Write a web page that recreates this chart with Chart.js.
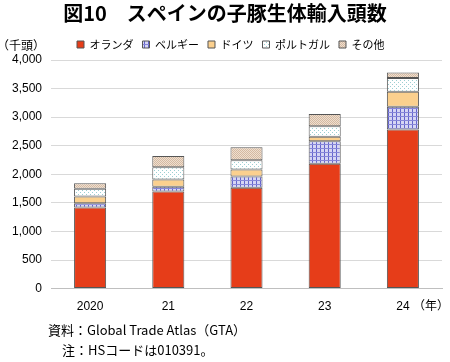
<!DOCTYPE html>
<html>
<head>
<meta charset="utf-8">
<script src="https://cdn.jsdelivr.net/npm/chart.js@4"></script>
<style>
  html, body { margin: 0; padding: 0; background: #fff; }
  #wrap { position: relative; width: 450px; height: 362px; }
</style>
</head>
<body>
<div id="wrap"><canvas id="chart" width="450" height="362"></canvas></div>
<script>
const years = ["2020", "21", "22", "23", "24"];
const seriesNames = ["オランダ", "ベルギー", "ドイツ", "ポルトガル", "その他"];
const netherlands = [1420, 1700, 1765, 2185, 2785];
const belgium = [75, 80, 195, 395, 395];
const germany = [115, 130, 125, 75, 265];
const portugal = [135, 215, 160, 185, 240];
const others = [100, 195, 230, 215, 95];
const yTicks = [0, 500, 1000, 1500, 2000, 2500, 3000, 3500, 4000];

const JP = "'Noto Sans CJK JP', 'Noto Sans', sans-serif";
const LAT = "'Liberation Sans', Arial, sans-serif";

function makePattern(size, draw) {
  const c = document.createElement("canvas");
  c.width = size; c.height = size;
  const g = c.getContext("2d");
  draw(g);
  return document.getElementById("chart").getContext("2d").createPattern(c, "repeat");
}

const belgiumFill = makePattern(4, g => {
  g.fillStyle = "#d6d6f4"; g.fillRect(0, 0, 4, 4);
  g.fillStyle = "#6464cc"; g.fillRect(0, 0, 1, 4);
  g.fillStyle = "#8686d8"; g.fillRect(0, 0, 4, 1);
});
const portugalFill = makePattern(4, g => {
  g.fillStyle = "#ffffff"; g.fillRect(0, 0, 4, 4);
  g.fillStyle = "#9ccfd2"; g.fillRect(0, 0, 1, 1); g.fillRect(2, 2, 1, 1);
});
const othersFill = makePattern(2, g => {
  g.fillStyle = "#efdfcf"; g.fillRect(0, 0, 2, 2);
  g.fillStyle = "#d4b9a2"; g.fillRect(0, 0, 1, 1); g.fillRect(1, 1, 1, 1);
});

const fills = ["#e63d19", belgiumFill, "#fbd08e", portugalFill, othersFill];
const values = [netherlands, belgium, germany, portugal, others];

// shift the legend row to where it sits in the original figure
const legendShift = {
  id: "legendShift",
  afterLayout(chart) {
    const lg = chart.legend;
    if (!lg) return;
    const dx = 68 - lg.left;
    lg.left += dx;
    lg.right += dx;
  }
};

const extraText = {
  id: "extraText",
  afterDraw(chart) {
    const ctx = chart.ctx;
    ctx.save();
    ctx.fillStyle = "#000";
    ctx.textBaseline = "middle";
    ctx.font = "bold 20px " + JP;
    ctx.textAlign = "center";
    ctx.fillText("図10　スペインの子豚生体輸入頭数", 225, 13);
    ctx.font = "12px " + JP;
    ctx.textAlign = "left";
    ctx.fillText("（千頭）", -3, 45);
    ctx.fillText("（年）", 413, 305);
    ctx.font = "13px " + JP;
    ctx.fillText("資料：Global Trade Atlas（GTA）", 48, 330);
    ctx.fillText("注：HSコードは010391。", 62, 350);
    ctx.restore();
  }
};

new Chart(document.getElementById("chart"), {
  type: "bar",
  data: {
    labels: years,
    datasets: seriesNames.map((name, i) => ({
      label: name,
      data: values[i],
      backgroundColor: fills[i],
      borderColor: "#555555",
      borderWidth: 1,
      borderSkipped: false,
      categoryPercentage: 1.0,
      barPercentage: 0.41
    }))
  },
  options: {
    responsive: false,
    animation: false,
    layout: { padding: { left: 0, right: 8, top: 30, bottom: 45 } },
    plugins: {
      title: { display: false },
      tooltip: { enabled: false },
      legend: {
        display: true,
        align: "start",
        labels: {
          boxWidth: 7,
          boxHeight: 7,
          padding: 9,
          color: "#000",
          font: { family: JP, size: 11 }
        }
      }
    },
    scales: {
      x: {
        stacked: true,
        grid: { display: false },
        border: { color: "#bfbfbf" },
        ticks: { color: "#000", font: { family: LAT, size: 12 }, padding: 3 }
      },
      y: {
        stacked: true,
        min: 0,
        max: 4000,
        afterFit(scale) { scale.width = 51; },
        afterBuildTicks(scale) { scale.ticks = yTicks.map(v => ({ value: v })); },
        grid: { color: "#d9d9d9", drawTicks: false },
        border: { display: false },
        ticks: {
          color: "#000",
          padding: 9,
          font: { family: LAT, size: 12 },
          callback: v => v.toLocaleString("en-US")
        }
      }
    }
  },
  plugins: [legendShift, extraText]
});
</script>
</body>
</html>
